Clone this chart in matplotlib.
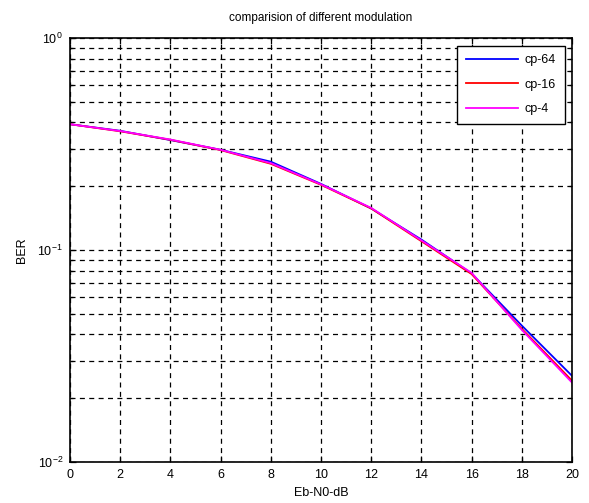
import matplotlib
matplotlib.use("Agg")
import matplotlib.pyplot as plt
from matplotlib.ticker import LogLocator, NullFormatter, FixedLocator

plt.rcParams['font.family'] = ['Liberation Sans', 'DejaVu Sans']

ebn0 = [0, 2, 4, 6, 8, 10, 12, 14, 16, 18, 20]
cp64 = [0.392, 0.365, 0.330, 0.297, 0.261, 0.205, 0.157, 0.112, 0.0775, 0.0440, 0.0255]
cp16 = [0.392, 0.363, 0.331, 0.296, 0.255, 0.203, 0.157, 0.110, 0.0770, 0.0425, 0.0242]
cp4 = [0.392, 0.364, 0.332, 0.297, 0.257, 0.204, 0.158, 0.111, 0.0780, 0.0420, 0.0237]
labels = ['cp-64', 'cp-16', 'cp-4']
colors = ['#0000ff', '#ff0000', '#ff00ff']
xticks = [0, 2, 4, 6, 8, 10, 12, 14, 16, 18, 20]

fig = plt.figure(figsize=(5.89, 5.03), dpi=100)
ax = fig.add_axes([70/589, 1-462/503, (572-70)/589, (462-38)/503])

for ys, lab, c in zip([cp64, cp16, cp4], labels, colors):
    ax.semilogy(ebn0, ys, color=c, lw=1.3, label=lab)

ax.set_xlim(0, 20)
ax.set_ylim(1e-2, 1e0)
ax.xaxis.set_major_locator(FixedLocator(xticks))
ax.yaxis.set_major_locator(LogLocator(base=10, numticks=10))
ax.yaxis.set_minor_locator(LogLocator(base=10, subs=[2,3,4,5,6,7,8,9], numticks=10))
ax.yaxis.set_minor_formatter(NullFormatter())

grid_kw = dict(color='black', lw=0.9, linestyle=(0, (4, 3.5)))
ax.grid(True, which='major', axis='both', **grid_kw)
ax.grid(True, which='minor', axis='y', **grid_kw)

ax.tick_params(which='both', direction='in', top=True, right=True, labelsize=9, pad=5)
ax.tick_params(which='major', length=4, width=0.9)
ax.tick_params(which='minor', length=2.5, width=0.9)
for s in ax.spines.values():
    s.set_linewidth(1.2)

ax.set_title('comparision of different modulation', fontsize=8.5, pad=12)
ax.set_xlabel('Eb-N0-dB', fontsize=9, labelpad=4)
ax.set_ylabel('BER', fontsize=9, labelpad=7)

leg = ax.legend(loc='upper right', fontsize=9, frameon=True, fancybox=False,
                edgecolor='black', framealpha=1, handlelength=4.2,
                borderaxespad=0.6, labelspacing=1.0, handletextpad=0.5,
                borderpad=0.7)
leg.get_frame().set_linewidth(1.0)

fig.savefig('out.png', dpi=100, facecolor='white')
